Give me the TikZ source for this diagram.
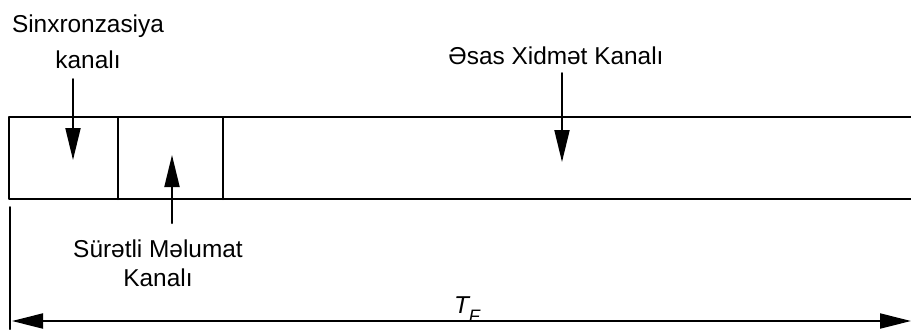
\documentclass[tikz,border=0pt]{standalone}
\usepackage{fontspec}
\setmainfont{Liberation Sans}
\usetikzlibrary{arrows.meta}
\tikzset{
  frame/.style={line width=1pt},
  chan/.style={line width=1pt,-{Triangle[length=16pt,width=7.5pt]}},
  lbl/.style={align=center,inner sep=0pt,font=\fontsize{12.2}{18}\selectfont},
}
\begin{document}
\begin{tikzpicture}[x=0.5pt,y=-0.5pt,line cap=round,line join=round]
			\useasboundingbox (0,0) rectangle (911,329);
			\def\yt{117}\def\yb{199}
			% frame of the channels
			\draw[frame] (911,\yt) -- (9,\yt) -- (9,\yb) -- (911,\yb);
			\foreach \x in{118,223}{\draw[frame] (\x,\yt) -- (\x,\yb);}
			% labels
			\node[lbl,anchor=north] (sync) at (88,14) {Sinxronzasiya\\kanalı};
			\node[lbl,anchor=north,font=\fontsize{12.2}{14.5}\selectfont] (fast) at (158,239) {Sürətli Məlumat\\Kanalı};
			\node[lbl,anchor=base] (main) at (556,64) {Əsas Xidmət Kanalı};
			\node[lbl,anchor=base] (tf) at (467,313) {\itshape T\raisebox{-4.5pt}{\fontsize{9}{9}\selectfont F}};
			% arrows
			\coordinate (s0) at (73,79); \coordinate (s1) at (73,160);
			\coordinate (f0) at (172,223); \coordinate (f1) at (172,155);
			\coordinate (m0) at (562,73); \coordinate (m1) at (562,162);
			\foreach \a/\b in{s0/s1,f0/f1,m0/m1}{\draw[chan] (\a) -- (\b);}
			% frame length
			\coordinate (t0) at (10,207); \coordinate (t1) at (10,329);
			\draw[frame] (t0) -- (t1);
			\coordinate (l) at (12,321); \coordinate (r) at (911,321);
			\draw[line width=1pt,{Triangle[length=15.5pt,width=7.5pt]}-{Triangle[length=15.5pt,width=7.5pt]}] (l) -- (r);
		\end{tikzpicture}
\end{document}
